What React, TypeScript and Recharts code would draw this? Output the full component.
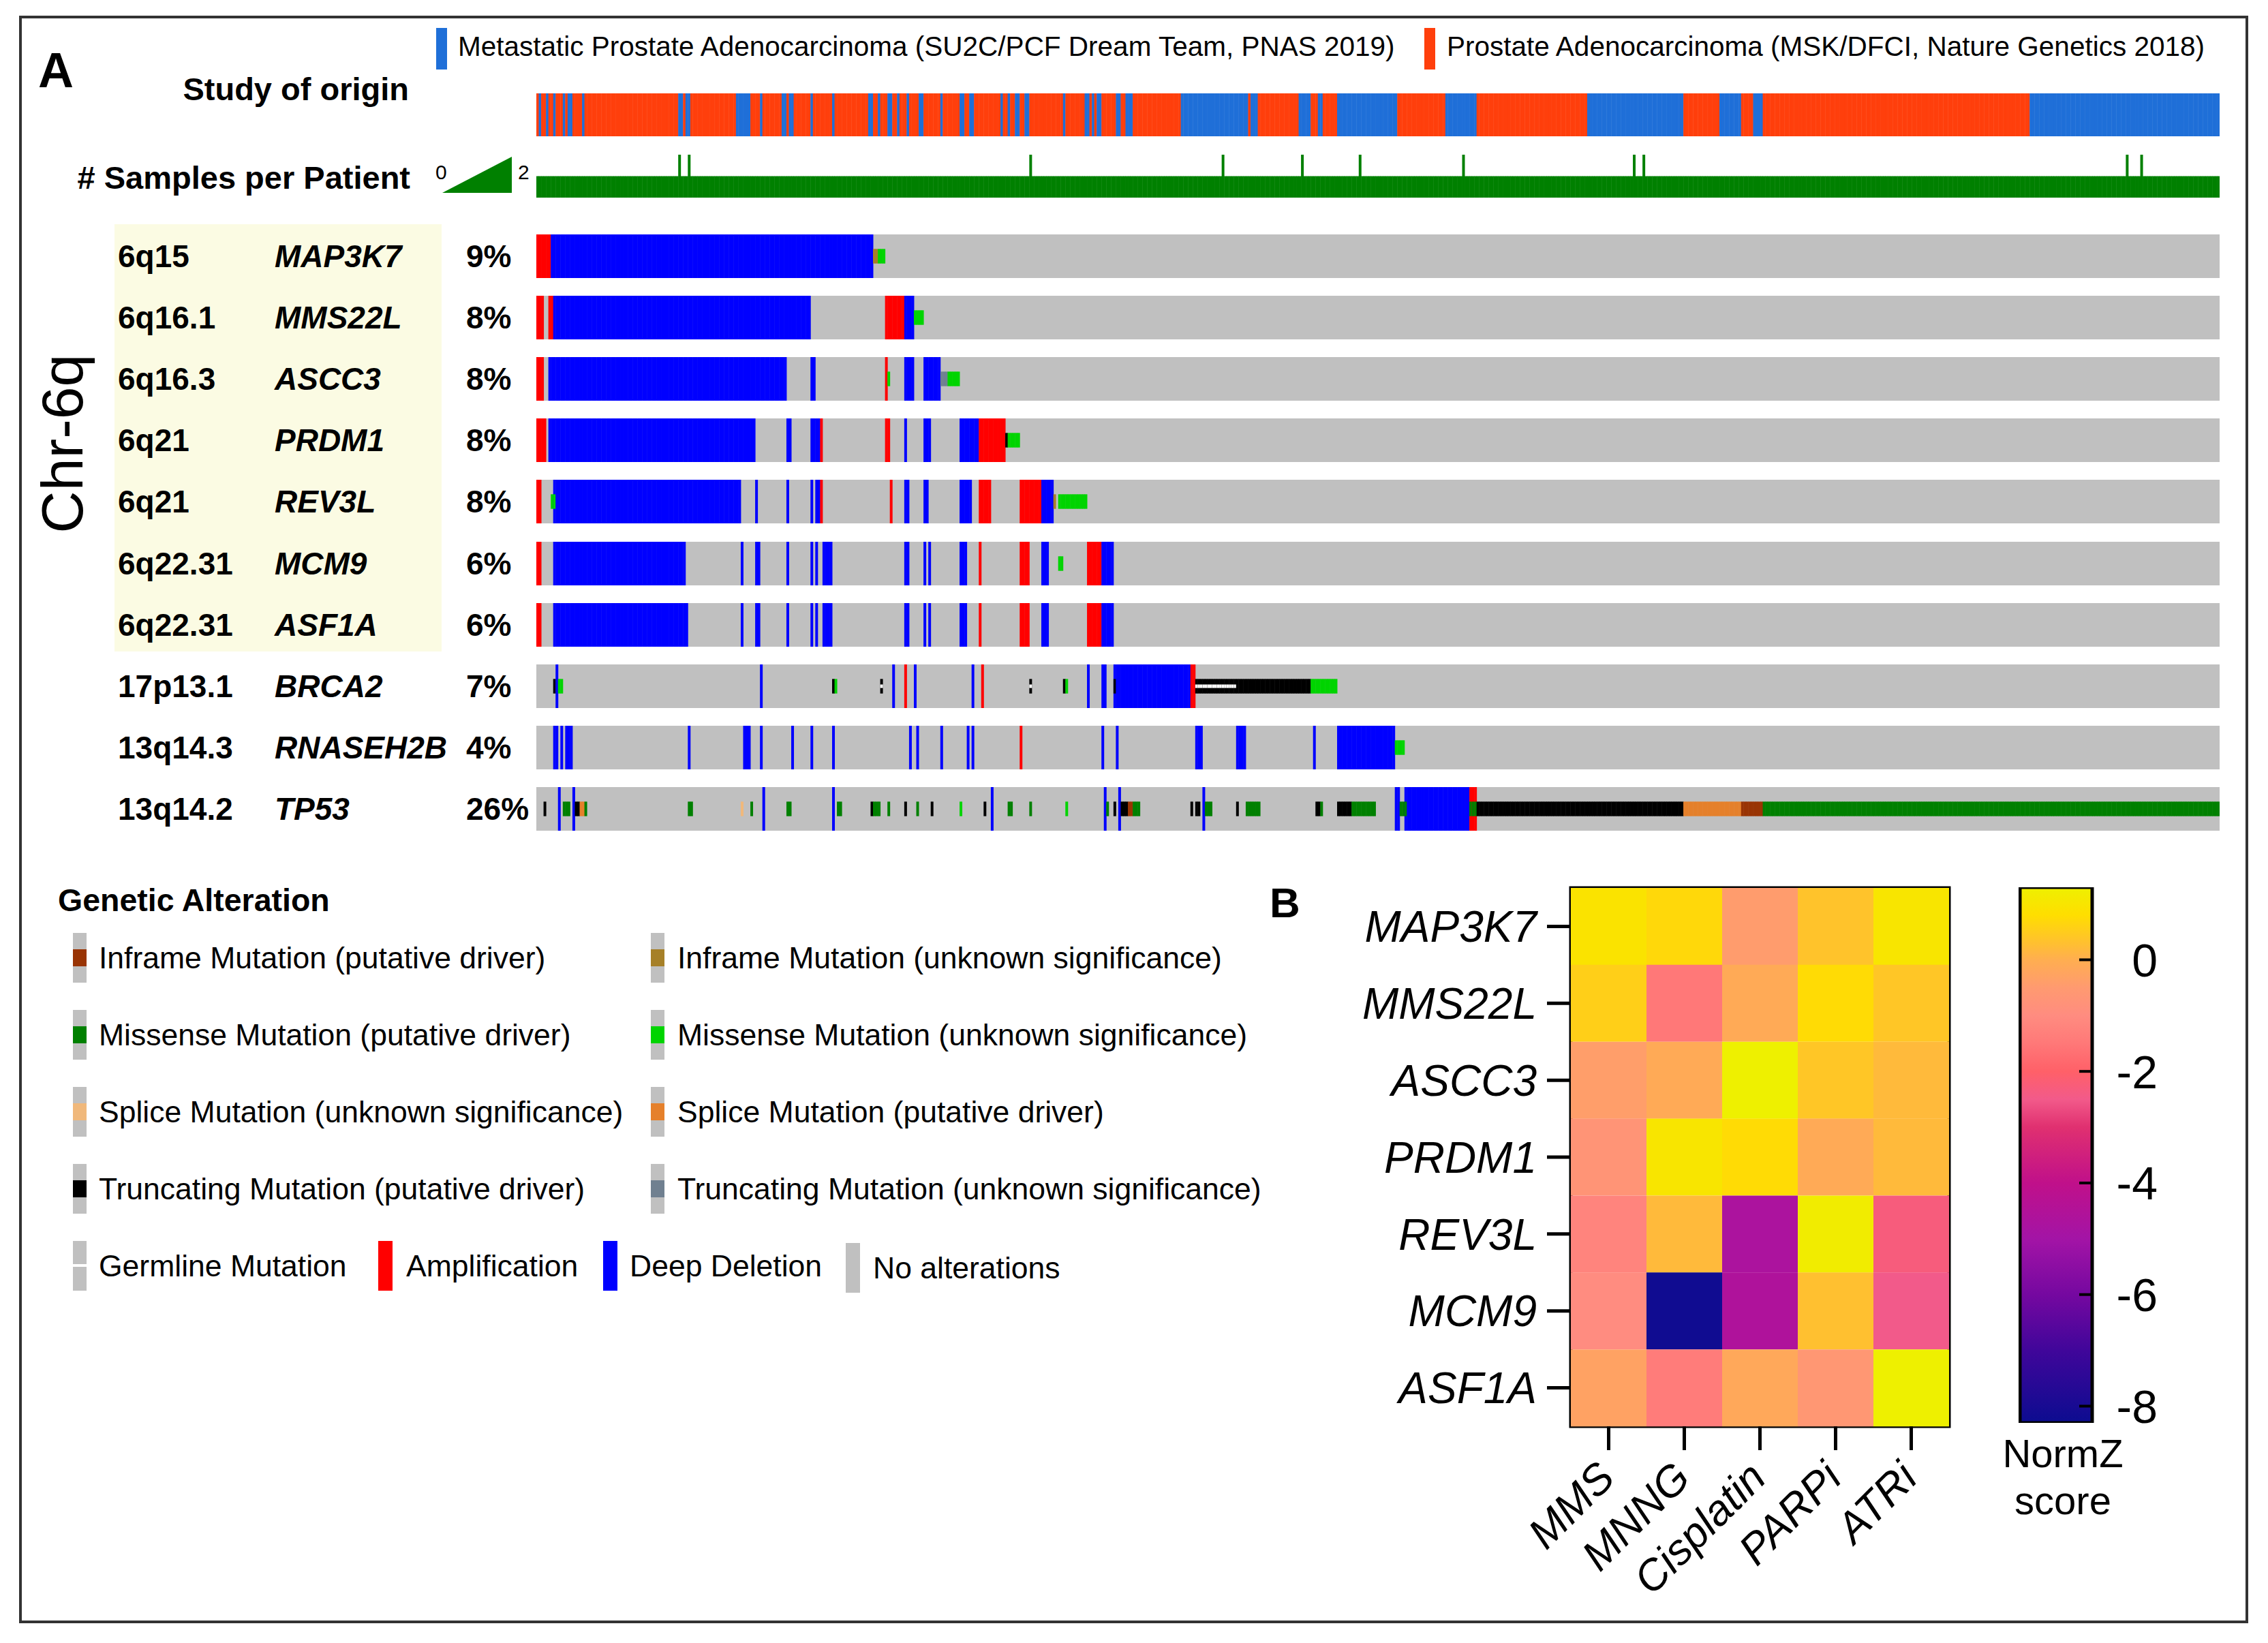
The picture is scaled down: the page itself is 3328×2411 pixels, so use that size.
import React from "react";
import { BarChart, Bar, XAxis, YAxis, Cell, CartesianGrid, ReferenceArea } from "recharts";

const FONT = '"Liberation Sans", Arial, Helvetica, sans-serif';

// ---- oncoprint (panel A) ----
const N_SAMPLES = 700; // altered cases shown, one column each

const GENES = ["MAP3K7", "MMS22L", "ASCC3", "PRDM1", "REV3L", "MCM9", "ASF1A", "BRCA2", "RNASEH2B", "TP53"];
const LOCI = ["6q15", "6q16.1", "6q16.3", "6q21", "6q21", "6q22.31", "6q22.31", "17p13.1", "13q14.3", "13q14.2"];
const ALTERED_PCT = ["9%", "8%", "8%", "8%", "8%", "6%", "6%", "7%", "4%", "26%"];

type Run = [number, number, string]; // [first column, end column, alteration]

const MAP3K7_RUNS: Run[] = [[0, 6, "amp"], [6, 140, "del"], [140, 142, "infV"], [142, 145, "misV"]];
const MMS22L_RUNS: Run[] = [[0, 3, "amp"], [5, 7, "amp"], [7, 114, "del"], [145, 153, "amp"], [153, 157, "del"], [157, 161, "misV"]];
const ASCC3_RUNS: Run[] = [
  [0, 3, "amp"], [5, 104, "del"], [114, 116, "del"], [145, 146, "amp"], [146, 147, "misV"],
  [153, 157, "del"], [161, 168, "del"], [168, 171, "truncV"], [171, 176, "misV"],
];
const PRDM1_RUNS: Run[] = [
  [0, 4, "amp"], [5, 91, "del"], [104, 106, "del"], [114, 118, "del"], [118, 119, "amp"], [145, 147, "amp"],
  [153, 154, "del"], [161, 164, "del"], [176, 184, "del"], [184, 195, "amp"], [195, 196, "trunc"], [196, 201, "misV"],
];
const REV3L_RUNS: Run[] = [
  [0, 2, "amp"], [7, 85, "del"], [6, 8, "misV"], [91, 92, "del"], [104, 105, "del"], [114, 115, "del"],
  [116, 118, "del"], [118, 119, "amp"], [147, 148, "amp"], [153, 155, "del"], [161, 163, "del"], [176, 181, "del"],
  [184, 189, "amp"], [201, 210, "amp"], [210, 215, "del"], [215, 216, "infV"], [217, 229, "misV"],
];
const MCM9_RUNS: Run[] = [
  [0, 2, "amp"], [7, 62, "del"], [85, 86, "del"], [91, 93, "del"], [104, 105, "del"], [114, 115, "del"],
  [116, 117, "del"], [119, 123, "del"], [153, 155, "del"], [161, 162, "del"], [163, 164, "del"], [176, 179, "del"],
  [184, 185, "amp"], [201, 205, "amp"], [210, 213, "del"], [217, 219, "misV"], [229, 235, "amp"], [235, 240, "del"],
];
const ASF1A_RUNS: Run[] = [
  [0, 2, "amp"], [7, 63, "del"], [85, 86, "del"], [91, 93, "del"], [104, 105, "del"], [114, 115, "del"],
  [116, 117, "del"], [119, 123, "del"], [153, 155, "del"], [161, 162, "del"], [163, 164, "del"], [176, 179, "del"],
  [184, 185, "amp"], [201, 205, "amp"], [210, 213, "del"], [229, 235, "amp"], [235, 240, "del"],
];
const BRCA2_RUNS: Run[] = [
  [7, 8, "trunc"], [8, 9, "del"], [9, 11, "misV"], [93, 94, "del"], [123, 124, "trunc"], [124, 125, "misV"],
  [143, 144, "trunc"], [143, 144, "germ"], [148, 149, "del"], [153, 154, "amp"], [157, 158, "del"], [181, 182, "del"],
  [185, 186, "amp"], [205, 206, "trunc"], [205, 206, "germ"], [219, 220, "trunc"], [220, 221, "misV"], [229, 230, "del"],
  [235, 237, "del"], [240, 272, "del"], [240, 241, "trunc"], [272, 274, "amp"], [274, 322, "trunc"], [274, 291, "germ"],
  [322, 333, "misV"],
];
const RNASEH2B_RUNS: Run[] = [
  [7, 9, "del"], [10, 11, "del"], [12, 15, "del"], [63, 64, "del"], [86, 89, "del"], [93, 94, "del"], [106, 107, "del"],
  [114, 115, "del"], [123, 124, "del"], [155, 156, "del"], [158, 159, "del"], [168, 169, "del"], [179, 180, "del"],
  [181, 182, "del"], [201, 202, "amp"], [235, 236, "del"], [241, 242, "del"], [274, 277, "del"], [291, 295, "del"],
  [323, 324, "del"], [333, 357, "del"], [357, 361, "misV"],
];
const TP53_RUNS: Run[] = [
  [3, 4, "trunc"], [9, 10, "del"], [11, 14, "mis"], [15, 16, "del"], [16, 18, "trunc"], [18, 20, "spl"], [20, 21, "mis"],
  [63, 65, "mis"], [85, 86, "splV"], [89, 90, "mis"], [94, 95, "del"], [104, 106, "mis"], [123, 124, "del"],
  [125, 127, "mis"], [139, 140, "trunc"], [140, 143, "mis"], [146, 147, "mis"], [153, 154, "trunc"], [158, 159, "mis"],
  [164, 165, "trunc"], [176, 177, "misV"], [186, 187, "trunc"], [189, 190, "del"], [196, 198, "mis"], [205, 206, "mis"],
  [220, 221, "misV"], [236, 237, "del"], [237, 238, "mis"], [240, 241, "trunc"], [242, 243, "del"], [243, 246, "trunc"],
  [246, 248, "inf"], [248, 251, "mis"], [272, 273, "trunc"], [274, 276, "trunc"], [277, 278, "del"], [278, 281, "mis"],
  [291, 292, "trunc"], [295, 301, "mis"], [324, 326, "trunc"], [326, 327, "mis"], [333, 339, "trunc"], [339, 349, "mis"],
  [357, 359, "del"], [359, 362, "mis"], [361, 388, "del"], [388, 391, "amp"], [388, 391, "mis"], [391, 477, "trunc"],
  [477, 501, "spl"], [501, 510, "inf"], [510, 700, "mis"],
];
const TRACK_RUNS = [MAP3K7_RUNS, MMS22L_RUNS, ASCC3_RUNS, PRDM1_RUNS, REV3L_RUNS, MCM9_RUNS, ASF1A_RUNS, BRCA2_RUNS, RNASEH2B_RUNS, TP53_RUNS];

// columns from the SU2C/PCF study; all other columns are MSK/DFCI
const SU2C_RUNS: [number, number][] = [
  [1, 2], [4, 5], [7, 8], [11, 12], [13, 15], [19, 20], [59, 61], [62, 64], [83, 89], [93, 94], [102, 104], [105, 107],
  [114, 115], [123, 124], [138, 140], [142, 143], [146, 148], [150, 151], [154, 155], [159, 161], [168, 169], [176, 178],
  [180, 182], [193, 194], [196, 197], [199, 201], [203, 205], [219, 220], [228, 230], [231, 232], [233, 235], [241, 243],
  [245, 248], [268, 296], [297, 300], [317, 322], [325, 327], [333, 358], [378, 391], [437, 477], [492, 501], [506, 510],
  [621, 700],
];
// patients that contributed two samples
const TWO_SAMPLE_PATIENTS = [59, 63, 205, 285, 318, 342, 385, 456, 460, 661, 667];

const ALT_COLORS: Record<string, string> = {
  amp: "#ff0000",
  del: "#0000ff",
  mis: "#008000",
  misV: "#00d400",
  trunc: "#000000",
  truncV: "#708090",
  inf: "#993404",
  infV: "#a68028",
  spl: "#e5802b",
  splV: "#f0b87b",
};
const NO_ALT = "#c0c0c0";
const SU2C_BLUE = "#1f6fd8";
const MSK_RED = "#ff3f0c";

// ---- heatmap (panel B) ----
const DRUGS = ["MMS", "MNNG", "Cisplatin", "PARPi", "ATRi"];
const HEAT_GENES = ["MAP3K7", "MMS22L", "ASCC3", "PRDM1", "REV3L", "MCM9", "ASF1A"];
const NORMZ_MMS = [0.95, 0.55, -0.4, -0.7, -1.2, -1.0, -0.3];
const NORMZ_MNNG = [0.7, -1.5, -0.1, 1.0, 0.2, -8.2, -1.4];
const NORMZ_CISPLATIN = [-0.45, -0.1, 1.3, 0.75, -4.7, -4.6, -0.15];
const NORMZ_PARPI = [0.35, 0.75, 0.4, -0.1, 1.2, 0.3, -0.6];
const NORMZ_ATRI = [1.0, 0.4, 0.2, 0.2, -2.3, -2.5, 1.3];
const NORMZ_TICKS = [0, -2, -4, -6, -8];
const NORMZ_DOMAIN: [number, number] = [-8.3, 1.3];
const NORMZ_STOPS: [number, string][] = [
  [1.3, "#eef000"], [0.8, "#ffde00"], [0.3, "#ffc030"], [0, "#ffae50"], [-0.5, "#ff9a70"], [-1, "#ff8c80"],
  [-1.5, "#ff7878"], [-2, "#ff6068"], [-2.5, "#f25a8a"], [-3, "#e03070"], [-4, "#c0108a"], [-5, "#a314a6"],
  [-6, "#7508a0"], [-7, "#40069a"], [-8.3, "#0c0c90"],
];

// layout
const ONCO_LEFT = 787;
const ONCO_WIDTH = 2470;
const TRACK_H = 64;
const GENE_TOP = 344;
const GENE_PITCH = 90.1;

function hexRgb(h: string) {
  const n = parseInt(h.slice(1), 16);
  return [(n >> 16) & 255, (n >> 8) & 255, n & 255];
}
function zColor(z: number) {
  for (let k = 0; k < NORMZ_STOPS.length - 1; k++) {
    const [v0, c0] = NORMZ_STOPS[k];
    const [v1, c1] = NORMZ_STOPS[k + 1];
    if (z <= v0 && z >= v1) {
      const t = (v0 - z) / (v0 - v1);
      const a = hexRgb(c0);
      const b = hexRgb(c1);
      const m = a.map((x, i) => Math.round(x + (b[i] - x) * t));
      return `rgb(${m[0]},${m[1]},${m[2]})`;
    }
  }
  return z > NORMZ_STOPS[0][0] ? NORMZ_STOPS[0][1] : NORMZ_STOPS[NORMZ_STOPS.length - 1][1];
}

function buildTrack(runs: Run[]) {
  const rows = Array.from({ length: N_SAMPLES }, (_, i) => ({
    id: i,
    v: 1,
    cna: null as string | null,
    mut: null as string | null,
    germ: false,
  }));
  for (const [s, e, code] of runs) {
    for (let i = s; i < e && i < N_SAMPLES; i++) {
      if (code === "amp" || code === "del") rows[i].cna = code;
      else if (code === "germ") rows[i].germ = true;
      else rows[i].mut = code;
    }
  }
  return rows;
}

const studyRows = Array.from({ length: N_SAMPLES }, (_, i) => ({
  id: i,
  v: 1,
  su2c: SU2C_RUNS.some(([s, e]) => i >= s && i < e),
}));
const sampleRows = Array.from({ length: N_SAMPLES }, (_, i) => ({
  id: i,
  count: TWO_SAMPLE_PATIENTS.includes(i) ? 2 : 1,
}));
const heatRows = HEAT_GENES.map((gene, i) => ({
  gene,
  MMS: NORMZ_MMS[i],
  MNNG: NORMZ_MNNG[i],
  Cisplatin: NORMZ_CISPLATIN[i],
  PARPi: NORMZ_PARPI[i],
  ATRi: NORMZ_ATRI[i],
}));

// one oncoprint column: CNA fills the cell, mutation a centre band, germline a white line
const OncoGlyph = (p: any) => {
  const { x, y, width, height, payload } = p;
  if (!payload || (!payload.cna && !payload.mut)) return <g />;
  return (
    <g>
      {payload.cna && <rect x={x} y={y} width={width} height={height} fill={ALT_COLORS[payload.cna]} />}
      {payload.mut && (
        <rect x={x} y={y + height / 3} width={width} height={height / 3} fill={ALT_COLORS[payload.mut]} />
      )}
      {payload.germ && <rect x={x} y={y + height * 0.46} width={width} height={height * 0.08} fill="#fff" />}
    </g>
  );
};

function GeneTrack({ runs, top }: { runs: Run[]; top: number }) {
  const data = buildTrack(runs);
  return (
    <div style={{ position: "absolute", left: ONCO_LEFT, top }}>
      <BarChart width={ONCO_WIDTH} height={TRACK_H} data={data} margin={{ top: 0, right: 0, bottom: 0, left: 0 }} barCategoryGap={0}>
        <CartesianGrid fill={NO_ALT} horizontal={false} vertical={false} />
        <XAxis dataKey="id" hide />
        <YAxis hide domain={[0, 1]} />
        <Bar dataKey="v" isAnimationActive={false} shape={OncoGlyph} />
      </BarChart>
    </div>
  );
}

const DrugTick = (props: any) => {
  const { x, y, payload } = props;
  const label = DRUGS[Math.floor(payload.value)];
  return (
    <g transform={`translate(${x - 20},${y + 10}) rotate(-45)`}>
      <text x={0} y={0} dy="0.72em" textAnchor="end" fontSize={63} fontStyle="italic" fill="#000">
        {label}
      </text>
    </g>
  );
};

const NormZTick = (props: any) => {
  const { x, y, payload } = props;
  return (
    <g>
      <line x1={x - 21} x2={x - 2} y1={y} y2={y} stroke="#000" strokeWidth={4} />
      <text x={x + 94} y={y} dy="0.36em" textAnchor="end" fontSize={68} fill="#000">
        {payload.value}
      </text>
    </g>
  );
};

const LEGEND_LEFT = [
  ["Inframe Mutation (putative driver)", ALT_COLORS.inf],
  ["Missense Mutation (putative driver)", ALT_COLORS.mis],
  ["Splice Mutation (unknown significance)", ALT_COLORS.splV],
  ["Truncating Mutation (putative driver)", ALT_COLORS.trunc],
];
const LEGEND_RIGHT = [
  ["Inframe Mutation (unknown significance)", ALT_COLORS.infV],
  ["Missense Mutation (unknown significance)", ALT_COLORS.misV],
  ["Splice Mutation (putative driver)", ALT_COLORS.spl],
  ["Truncating Mutation (unknown significance)", ALT_COLORS.truncV],
];
const LEGEND_ROWS_Y = [1405, 1518, 1631, 1744, 1857];

function MutGlyph({ x, cy, color }: { x: number; cy: number; color: string }) {
  return (
    <g>
      <rect x={x} y={cy - 36} width={20} height={73} fill={NO_ALT} />
      <rect x={x} y={cy - 12} width={20} height={25} fill={color} />
    </g>
  );
}

function Decorations() {
  const t = { fontFamily: FONT, fill: "#000" } as const;
  return (
    <svg width={3328} height={2411} style={{ position: "absolute", left: 0, top: 0 }}>
      <rect x={30} y={25} width={3267} height={2355} fill="none" stroke="#333" strokeWidth={4} />
      <text x={56} y={128} fontSize={72} fontWeight="bold" {...t}>A</text>
      <rect x={640} y={41} width={16} height={61} fill={SU2C_BLUE} />
      <text x={672} y={82} fontSize={40.5} {...t}>Metastatic Prostate Adenocarcinoma (SU2C/PCF Dream Team, PNAS 2019)</text>
      <rect x={2090} y={41} width={16} height={61} fill={MSK_RED} />
      <text x={2123} y={82} fontSize={40.5} {...t}>Prostate Adenocarcinoma (MSK/DFCI, Nature Genetics 2018)</text>
      <text x={600} y={147} fontSize={47} fontWeight="bold" textAnchor="end" {...t}>Study of origin</text>
      <text x={602} y={277} fontSize={47} fontWeight="bold" textAnchor="end" {...t}># Samples per Patient</text>
      <text x={639} y={263} fontSize={30} {...t}>0</text>
      <polygon points="649,283 751,230 751,283" fill="#008000" />
      <text x={760} y={263} fontSize={30} {...t}>2</text>

      <rect x={168} y={329} width={480} height={627} fill="#fbfbe3" />
      <text x={91} y={651} fontSize={86} textAnchor="middle" dominantBaseline="central" transform="rotate(-90 91 651)" {...t}>
        Chr-6q
      </text>
      {GENES.map((g, i) => {
        const cy = GENE_TOP + i * GENE_PITCH + TRACK_H / 2 + 16;
        return (
          <g key={g}>
            <text x={173} y={cy} fontSize={46} fontWeight="bold" {...t}>{LOCI[i]}</text>
            <text x={403} y={cy} fontSize={46} fontWeight="bold" fontStyle="italic" {...t}>{g}</text>
            <text x={684} y={cy} fontSize={46} fontWeight="bold" {...t}>{ALTERED_PCT[i]}</text>
          </g>
        );
      })}

      <text x={85} y={1337} fontSize={46.5} fontWeight="bold" {...t}>Genetic Alteration</text>
      {LEGEND_LEFT.map(([label, color], i) => (
        <g key={label}>
          <MutGlyph x={107} cy={LEGEND_ROWS_Y[i]} color={color} />
          <text x={145} y={LEGEND_ROWS_Y[i] + 16} fontSize={44.5} {...t}>{label}</text>
        </g>
      ))}
      {LEGEND_RIGHT.map(([label, color], i) => (
        <g key={label}>
          <MutGlyph x={955} cy={LEGEND_ROWS_Y[i]} color={color} />
          <text x={994} y={LEGEND_ROWS_Y[i] + 16} fontSize={44.5} {...t}>{label}</text>
        </g>
      ))}
      <g>
        <rect x={107} y={LEGEND_ROWS_Y[4] - 36} width={20} height={73} fill={NO_ALT} />
        <rect x={107} y={LEGEND_ROWS_Y[4] - 2} width={20} height={4} fill="#fff" />
        <text x={145} y={LEGEND_ROWS_Y[4] + 16} fontSize={44.5} {...t}>Germline Mutation</text>
        <rect x={555} y={LEGEND_ROWS_Y[4] - 36} width={21} height={73} fill={ALT_COLORS.amp} />
        <text x={596} y={LEGEND_ROWS_Y[4] + 16} fontSize={44.5} {...t}>Amplification</text>
        <rect x={885} y={LEGEND_ROWS_Y[4] - 36} width={21} height={73} fill={ALT_COLORS.del} />
        <text x={924} y={LEGEND_ROWS_Y[4] + 16} fontSize={44.5} {...t}>Deep Deletion</text>
        <rect x={1241} y={LEGEND_ROWS_Y[4] - 33} width={21} height={73} fill={NO_ALT} />
        <text x={1281} y={LEGEND_ROWS_Y[4] + 19} fontSize={44.5} {...t}>No alterations</text>
      </g>

      <text x={1863} y={1346} fontSize={62} fontWeight="bold" {...t}>B</text>
      <text x={3027} y={2153} fontSize={58} textAnchor="middle" {...t}>NormZ</text>
      <text x={3027} y={2222} fontSize={58} textAnchor="middle" {...t}>score</text>
    </svg>
  );
}

export default function App() {
  return (
    <div
      style={{
        position: "absolute",
        left: 0,
        top: 0,
        width: 3328,
        height: 2411,
        background: "#fff",
        fontFamily: FONT,
        overflow: "hidden",
      }}
    >
      <Decorations />

      {/* study of origin */}
      <div style={{ position: "absolute", left: ONCO_LEFT, top: 137 }}>
        <BarChart width={ONCO_WIDTH} height={63} data={studyRows} margin={{ top: 0, right: 0, bottom: 0, left: 0 }} barCategoryGap={0}>
          <XAxis dataKey="id" hide />
          <YAxis hide domain={[0, 1]} />
          <Bar dataKey="v" isAnimationActive={false}>
            {studyRows.map((r) => (
              <Cell key={r.id} fill={r.su2c ? SU2C_BLUE : MSK_RED} />
            ))}
          </Bar>
        </BarChart>
      </div>

      {/* samples per patient */}
      <div style={{ position: "absolute", left: ONCO_LEFT, top: 227 }}>
        <BarChart width={ONCO_WIDTH} height={63} data={sampleRows} margin={{ top: 0, right: 0, bottom: 0, left: 0 }} barCategoryGap={0}>
          <XAxis dataKey="id" hide />
          <YAxis hide domain={[0, 2]} />
          <Bar dataKey="count" fill="#008000" isAnimationActive={false} />
        </BarChart>
      </div>

      {TRACK_RUNS.map((runs, i) => (
        <GeneTrack key={GENES[i]} runs={runs} top={GENE_TOP + i * GENE_PITCH} />
      ))}

      {/* heatmap */}
      <div style={{ position: "absolute", left: 1960, top: 1290 }}>
        <BarChart
          width={905}
          height={1085}
          data={heatRows}
          layout="vertical"
          margin={{ top: 13, right: 5, bottom: 0, left: 0 }}
          barCategoryGap={0}
        >
          <XAxis
            type="number"
            domain={[0, DRUGS.length]}
            ticks={DRUGS.map((_, i) => i + 0.5)}
            interval={0}
            height={282}
            tickSize={35}
            tickLine={{ stroke: "#000", strokeWidth: 5 }}
            axisLine={false}
            tick={<DrugTick />}
            allowDataOverflow
          />
          <YAxis
            type="category"
            dataKey="gene"
            width={345}
            interval={0}
            tickSize={35}
            tickMargin={15}
            tickLine={{ stroke: "#000", strokeWidth: 5 }}
            axisLine={false}
            tick={{ fontSize: 64, fontStyle: "italic", fill: "#000" }}
          />
          {DRUGS.map((d) => (
            <Bar key={d} name={d} dataKey={(r: any) => (r[d] == null ? 0 : 1)} stackId="heat" isAnimationActive={false}>
              {heatRows.map((r: any) => (
                <Cell key={r.gene} fill={zColor(r[d])} />
              ))}
            </Bar>
          ))}
          <ReferenceArea x1={0} x2={DRUGS.length} fill="none" stroke="#000" strokeWidth={5} ifOverflow="visible" />
        </BarChart>
      </div>

      {/* colour bar */}
      <div style={{ position: "absolute", left: 2962, top: 1297 }}>
        <BarChart
          width={260}
          height={821}
          data={[{ name: "NormZ", span: NORMZ_DOMAIN }]}
          margin={{ top: 5, right: 0, bottom: 30, left: 2 }}
          barCategoryGap={0}
        >
          <defs>
            <linearGradient id="normzGrad" x1="0" y1="0" x2="0" y2="1">
              {NORMZ_STOPS.map(([v, c]) => (
                <stop key={v} offset={(NORMZ_DOMAIN[1] - v) / (NORMZ_DOMAIN[1] - NORMZ_DOMAIN[0])} stopColor={c} />
              ))}
            </linearGradient>
          </defs>
          <XAxis dataKey="name" hide />
          <YAxis
            yAxisId="inner"
            orientation="left"
            mirror
            type="number"
            domain={NORMZ_DOMAIN}
            ticks={NORMZ_TICKS}
            allowDataOverflow
            width={0}
            tick={false}
            tickSize={19}
            tickLine={{ stroke: "#000", strokeWidth: 4 }}
            axisLine={false}
          />
          <YAxis
            yAxisId="z"
            orientation="right"
            type="number"
            domain={NORMZ_DOMAIN}
            ticks={NORMZ_TICKS}
            allowDataOverflow
            width={152}
            tickSize={0}
            tickLine={false}
            axisLine={false}
            tick={<NormZTick />}
          />
          <Bar yAxisId="z" dataKey="span" fill="url(#normzGrad)" stroke="#000" strokeWidth={5} isAnimationActive={false} />
        </BarChart>
      </div>
    </div>
  );
}
